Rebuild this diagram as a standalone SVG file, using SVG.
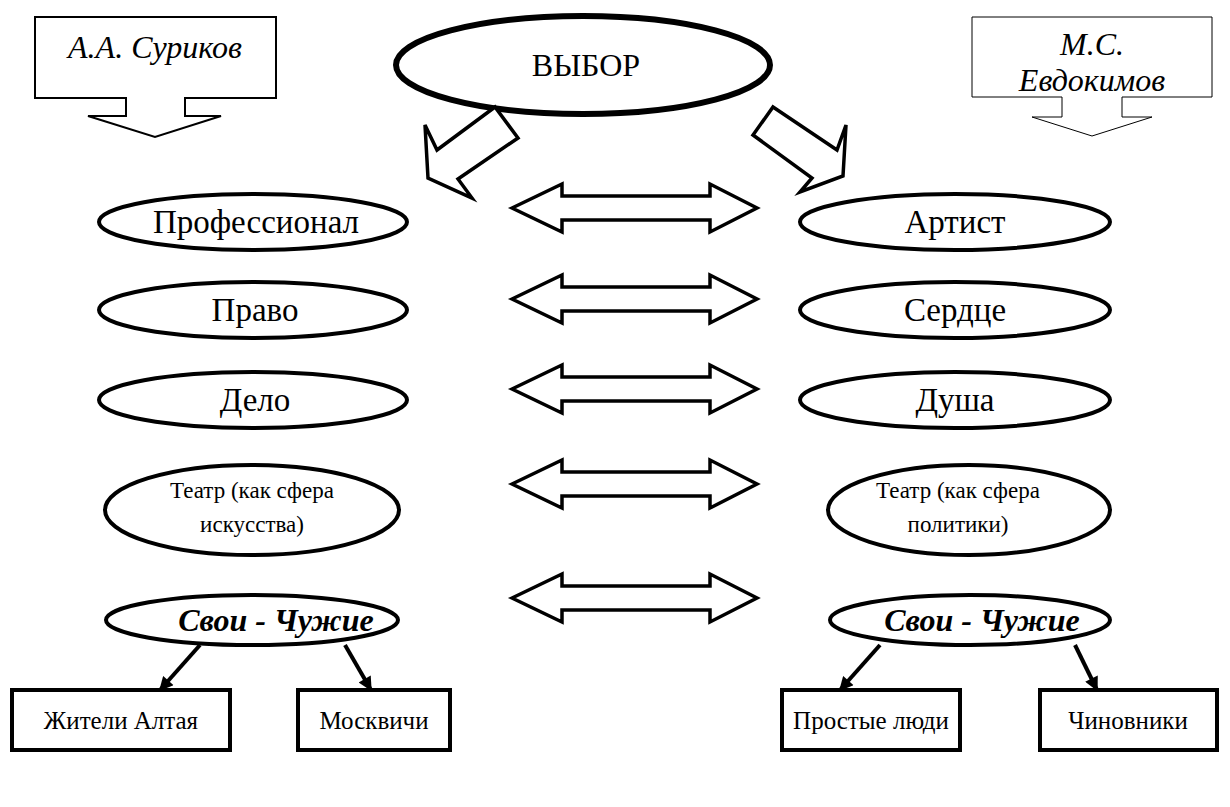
<svg xmlns="http://www.w3.org/2000/svg" width="1230" height="807" viewBox="0 0 1230 807">
<style>
.ell{fill:#fff;stroke:#000;stroke-width:4}
.box{fill:#fff;stroke:#000;stroke-width:4}
.blk{fill:#fff;stroke:#000;stroke-width:3.5;stroke-linejoin:miter}
.t{font-family:"Liberation Serif","Times New Roman",serif;fill:#000;text-anchor:middle}
.lbl{font-size:33px}
.sm{font-size:23px}
.bx{font-size:25px}
.it{font-style:italic;font-size:32px}
.bi{font-style:italic;font-weight:bold;font-size:32px}
.con{stroke:#000;stroke-width:4;fill:none;marker-end:url(#ah)}
</style>
<defs>
<marker id="ah" viewBox="0 0 10 10" refX="9" refY="5" markerUnits="userSpaceOnUse" markerWidth="16" markerHeight="14" orient="auto">
<path d="M0,0 L10,5 L0,10 z" fill="#000"/>
</marker>
<polygon id="dbl" class="blk" points="512,0 562,-24 562,-12 710,-12 710,-24 757,0 710,24 710,12 562,12 562,24"/>
</defs>

<g id="suryikov">
<path d="M35,17 H276 V98 H185 V116 H221 L155,137 L88,116 H126 V98 H35 Z" fill="#fff" stroke="#000" stroke-width="2"/>
<text class="t it" x="155" y="58">А.А. Суриков</text>
</g>
<g id="evdokimov">
<path d="M972,17 H1212 V97 H1122 V117 H1152 L1092,136 L1032,117 H1062 V97 H972 Z" fill="#fff" stroke="#000" stroke-width="1"/>
<text class="t it" x="1092" y="55">М.С.</text>
<text class="t it" x="1092" y="91">Евдокимов</text>
</g>
<g id="vybor">
<ellipse cx="583" cy="65" rx="187" ry="49" fill="#fff" stroke="#000" stroke-width="6"/>
<text class="t" style="font-size:32px" x="586" y="76">ВЫБОР</text>
</g>

<g id="connectors">
<polygon class="blk" points="495,107 437,150 425,125 428,178 472,198 458,179 518,138"/>
<polygon class="blk" points="773,107 837,150 846,125 843,176 800,192 812,178 753,135"/>
<use href="#dbl" transform="translate(0,208)"/>
<use href="#dbl" transform="translate(0,299)"/>
<use href="#dbl" transform="translate(0,389)"/>
<use href="#dbl" transform="translate(0,484)"/>
<use href="#dbl" transform="translate(0,598)"/>
<line class="con" x1="200" y1="645" x2="160" y2="690"/>
<line class="con" x1="345" y1="645" x2="371" y2="690"/>
<line class="con" x1="880" y1="645" x2="840" y2="690"/>
<line class="con" x1="1075" y1="645" x2="1097" y2="690"/>
</g>

<g id="professional"><ellipse class="ell" cx="253" cy="222" rx="154" ry="28"/><text class="t lbl" x="256" y="233">Профессионал</text></g>
<g id="artist"><ellipse class="ell" cx="955" cy="222" rx="155" ry="28"/><text class="t lbl" x="955" y="233">Артист</text></g>
<g id="pravo"><ellipse class="ell" cx="253" cy="310" rx="154" ry="28"/><text class="t lbl" x="255" y="321">Право</text></g>
<g id="serdtse"><ellipse class="ell" cx="955" cy="310" rx="155" ry="28"/><text class="t lbl" x="955" y="321">Сердце</text></g>
<g id="delo"><ellipse class="ell" cx="253" cy="400" rx="154" ry="28"/><text class="t lbl" x="255" y="411">Дело</text></g>
<g id="dusha"><ellipse class="ell" cx="955" cy="400" rx="155" ry="28"/><text class="t lbl" x="955" y="411">Душа</text></g>
<g id="teatr1"><ellipse class="ell" cx="252" cy="510" rx="147" ry="45"/><text class="t sm" x="252" y="498">Театр (как сфера</text><text class="t sm" x="252" y="532">искусства)</text></g>
<g id="teatr2"><ellipse class="ell" cx="969" cy="510" rx="141" ry="45"/><text class="t sm" x="958" y="498">Театр (как сфера</text><text class="t sm" x="958" y="532">политики)</text></g>
<g id="svoi1"><ellipse class="ell" cx="252" cy="620" rx="146" ry="25"/><text class="t bi" x="276" y="631">Свои - Чужие</text></g>
<g id="svoi2"><ellipse class="ell" cx="970" cy="620" rx="140" ry="25"/><text class="t bi" x="982" y="631">Свои - Чужие</text></g>

<g id="zhiteli"><rect class="box" x="12" y="690" width="218" height="60"/><text class="t bx" x="121" y="729">Жители Алтая</text></g>
<g id="moskvichi"><rect class="box" x="298" y="690" width="152" height="60"/><text class="t bx" x="374" y="729">Москвичи</text></g>
<g id="prostye"><rect class="box" x="782" y="690" width="178" height="60"/><text class="t bx" x="871" y="729">Простые люди</text></g>
<g id="chinovniki"><rect class="box" x="1040" y="690" width="177" height="60"/><text class="t bx" x="1128" y="729">Чиновники</text></g>
</svg>
